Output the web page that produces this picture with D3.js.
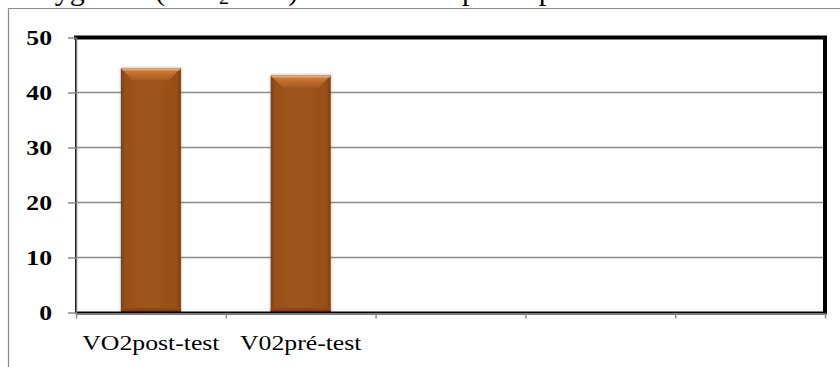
<!DOCTYPE html>
<html>
<head>
<meta charset="utf-8">
<script src="https://cdn.jsdelivr.net/npm/d3@7"></script>
<style>
  html, body { margin: 0; padding: 0; background: #fff; }
  svg { display: block; }
  text { font-family: "Liberation Serif", "Times New Roman", serif; }
</style>
</head>
<body>
<svg id="chart" width="840" height="367"></svg>
<script>
// Category slots on the x axis (only the first two hold measurements)
const categories = ["VO2post-test", "V02pré-test", "", "", ""];
// VO2 max values for each slot
const values = [44.4, 43.1, null, null, null];
// Value-axis ticks
const yTicks = [0, 10, 20, 30, 40, 50];
// Title pieces: main text, subscript, remaining words
const titleParts = ["Oxygen", "(VO", "2", " max) intake of the", "participants"];

const svg = d3.select("#chart");
const W = 840, H = 367;
const plot = { left: 76, right: 825, top: 37.5, bottom: 312.5 };
const stretch = 1.17;

const y = d3.scaleLinear().domain([0, 50]).range([plot.bottom, plot.top]);
const x = d3.scaleBand().domain(d3.range(categories.length))
  .range([plot.left, plot.right]).padding(0);
const slot = d3.scaleLinear().domain([0, categories.length])
  .range([plot.left, plot.right]);
const barW = x.bandwidth() / 2.5;

// gradients and shadow
const defs = svg.append("defs");
const body = defs.append("linearGradient").attr("id", "barBody")
  .attr("x1", 0).attr("x2", 1).attr("y1", 0).attr("y2", 0);
body.append("stop").attr("offset", 0).attr("stop-color", "#7d3f12");
body.append("stop").attr("offset", 0.07).attr("stop-color", "#9a5019");
body.append("stop").attr("offset", 0.5).attr("stop-color", "#9e551b");
body.append("stop").attr("offset", 0.93).attr("stop-color", "#984f18");
body.append("stop").attr("offset", 1).attr("stop-color", "#773c11");

const bevel = defs.append("linearGradient").attr("id", "barBevel")
  .attr("x1", 0).attr("x2", 0).attr("y1", 0).attr("y2", 1);
bevel.append("stop").attr("offset", 0).attr("stop-color", "#e39a5c");
bevel.append("stop").attr("offset", 0.25).attr("stop-color", "#c97835");
bevel.append("stop").attr("offset", 1).attr("stop-color", "#a65b1f");

const bottomShade = defs.append("linearGradient").attr("id", "barBottom")
  .attr("x1", 0).attr("x2", 0).attr("y1", 0).attr("y2", 1);
bottomShade.append("stop").attr("offset", 0).attr("stop-color", "#9a5019");
bottomShade.append("stop").attr("offset", 1).attr("stop-color", "#6a3510");

const shadow = defs.append("filter").attr("id", "barShadow")
  .attr("x", "-20%").attr("y", "-20%").attr("width", "140%").attr("height", "140%");
shadow.append("feDropShadow").attr("dx", 0).attr("dy", 0)
  .attr("stdDeviation", 1.6).attr("flood-color", "#555").attr("flood-opacity", 0.55);

// outer chart frame (left and top edges)
svg.append("line").attr("x1", 8.5).attr("x2", 8.5).attr("y1", 8.5).attr("y2", H)
  .attr("stroke", "#8a8a8a").attr("stroke-width", 1.2);
svg.append("line").attr("x1", 8.5).attr("x2", W).attr("y1", 8.5).attr("y2", 8.5)
  .attr("stroke", "#8a8a8a").attr("stroke-width", 1.2);

// title, sitting above the top edge so only its descenders show
const title = svg.append("text")
  .attr("y", 0)
  .attr("font-size", 30).attr("fill", "#000");
title.append("tspan").attr("x", 18).text(titleParts[0]);
title.append("tspan").attr("x", 155).text(titleParts[1]);
title.append("tspan").attr("x", 219).attr("font-size", 20).attr("dy", 4).text(titleParts[2]);
title.append("tspan").attr("dy", -4).text(titleParts[3]);
title.append("tspan").attr("x", 462).text(titleParts[4]);

// gridlines
svg.append("g").selectAll("line")
  .data(yTicks.filter(t => t > 0 && t < 50))
  .join("line")
  .attr("x1", plot.left).attr("x2", plot.right)
  .attr("y1", d => y(d)).attr("y2", d => y(d))
  .attr("stroke", "#8c8c8c").attr("stroke-width", 1.5);

// bars
const bars = svg.append("g").selectAll("g")
  .data(values.map((v, i) => ({ v, i })).filter(d => d.v != null))
  .join("g")
  .attr("filter", "url(#barShadow)");

const bx = d => x(d.i) + (x.bandwidth() - barW) / 2;

bars.append("rect")
  .attr("x", bx)
  .attr("y", d => y(d.v))
  .attr("width", barW)
  .attr("height", d => y(0) - y(d.v))
  .attr("fill", "url(#barBody)");

// bottom darkening
bars.append("rect")
  .attr("x", bx)
  .attr("y", y(0) - 5)
  .attr("width", barW)
  .attr("height", 5)
  .attr("fill", "url(#barBottom)");

// top bevel trapezoid
bars.append("path")
  .attr("d", d => {
    const x0 = bx(d), x1 = x0 + barW;
    const t = y(d.v), b = 12;
    return `M${x0},${t}L${x1},${t}L${x1 - b},${t + b}L${x0 + b},${t + b}Z`;
  })
  .attr("fill", "url(#barBevel)");
// thin highlight along the top edge
bars.append("rect")
  .attr("x", d => bx(d) + 1)
  .attr("y", d => y(d.v))
  .attr("width", barW - 2)
  .attr("height", 2)
  .attr("fill", "#eaa468");

// plot-area border: thin left/bottom, heavy top/right
svg.append("rect")
  .attr("x", plot.left).attr("y", plot.top)
  .attr("width", plot.right - plot.left).attr("height", plot.bottom - plot.top)
  .attr("fill", "none").attr("stroke", "#000").attr("stroke-width", 2);
svg.append("path")
  .attr("d", `M${plot.left},${plot.top}H${plot.right}V${plot.bottom}`)
  .attr("fill", "none").attr("stroke", "#000").attr("stroke-width", 4)
  .attr("stroke-linecap", "square");

// y axis
const yAxis = svg.append("g")
  .attr("transform", `translate(${plot.left},0)`)
  .call(d3.axisLeft(y).tickValues(yTicks).tickSize(8).tickSizeOuter(0));
yAxis.select(".domain").attr("stroke", "#7a7a7a").attr("stroke-width", 1.5);
yAxis.selectAll(".tick line").attr("stroke", "#8a8a8a").attr("stroke-width", 1.5);
yAxis.selectAll(".tick text")
  .attr("x", 0)
  .attr("transform", `translate(-24,0) scale(${stretch},1)`)
  .attr("font-size", 22).attr("font-weight", "bold")
  .attr("fill", "#000");

// x axis: slot boundaries as ticks
const xAxis = svg.append("g")
  .attr("transform", `translate(0,${plot.bottom + 1})`)
  .call(d3.axisBottom(slot).tickValues(d3.range(categories.length + 1))
    .tickSize(5).tickSizeOuter(0).tickFormat(""));
xAxis.select(".domain").attr("stroke", "#7a7a7a").attr("stroke-width", 2);
xAxis.selectAll(".tick line").attr("stroke", "#8a8a8a").attr("stroke-width", 1.5);

// category labels
svg.append("g").selectAll("text")
  .data(categories.map((c, i) => ({ c, i })).filter(d => d.c))
  .join("text")
  .attr("transform", d => `translate(${x(d.i) + x.bandwidth() / 2},350) scale(${stretch},1)`)
  .attr("text-anchor", "middle")
  .attr("font-size", 22).attr("fill", "#000")
  .text(d => d.c);
</script>
</body>
</html>
